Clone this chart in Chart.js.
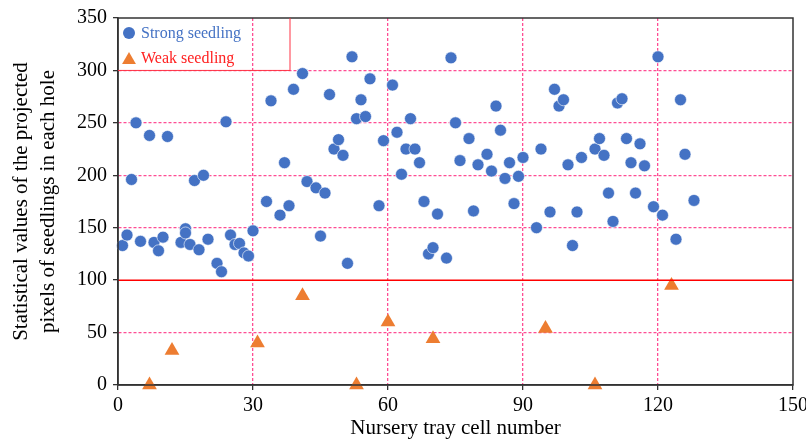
<!DOCTYPE html>
<html>
<head>
<meta charset="utf-8">
<script src="https://cdn.jsdelivr.net/npm/chart.js@4.4.1/dist/chart.umd.min.js"></script>
<style>
  html, body { margin: 0; padding: 0; background: #fff; }
  .chart-container { width: 806px; height: 441px; }
</style>
</head>
<body>
<div class="chart-container">
  <canvas id="seedChart" width="806" height="441"></canvas>
</div>
<script>
// datos
const seriesLabels = ['Strong seedling', 'Weak seedling'];

const strongX = [1,2,3,4,5,7,8,9,10,11,14,15,15,16,17,18,19,20,22,23,24,25,26,27,28,29,30,33,34,36,
  37,38,39,41,42,44,45,46,47,48,49,50,51,52,53,54,55,56,58,59,61,62,63,64,65,66,67,68,69,70,
  71,73,74,75,76,78,79,80,82,83,84,85,86,87,88,89,90,93,94,96,97,98,99,100,101,102,103,106,107,108,
  109,110,111,112,113,114,115,116,117,119,120,121,124,125,126,128];
const strongY = [133,143,196,250,137,238,136,128,141,237,136,149,145,134,195,129,200,139,116,108,
  251,143,134,135,126,123,147,175,271,162,212,171,282,297,194,188,142,183,277,225,
  234,219,116,313,254,272,256,292,171,233,286,241,201,225,254,225,212,175,125,131,
  163,121,312,250,214,235,166,210,220,204,266,243,197,212,173,199,217,150,225,165,
  282,266,272,210,133,165,217,225,235,219,183,156,269,273,235,212,183,230,209,170,
  313,162,139,272,220,176];

const weakX = [7,12,31,41,53,60,70,95,106,123];
const weakY = [0,33,40,85,0,60,44,54,0,95];

const xTicks = [0,30,60,90,120,150];
const yTicks = [0,50,100,150,200,250,300,350];
const threshold = 100;
const legendBottomValue = 300;

const blue = '#4472c4';
const orange = '#ed7d31';
const pink = '#ff4d94';
const axisColor = '#333333';
const serif = '"Liberation Serif", "Times New Roman", serif';

const toPoints = (xs, ys) => xs.map((x, i) => ({ x: x, y: ys[i] }));

// linea roja, marco y leyenda
const extrasPlugin = {
  id: 'extras',
  afterDatasetsDraw(chart) {
    const { ctx, chartArea, scales } = chart;
    const yLine = scales.y.getPixelForValue(threshold);
    ctx.save();
    ctx.strokeStyle = '#ff0000';
    ctx.lineWidth = 1.5;
    ctx.beginPath();
    ctx.moveTo(chartArea.left, yLine);
    ctx.lineTo(chartArea.right, yLine);
    ctx.stroke();
    ctx.restore();
  },
  afterDraw(chart) {
    const { ctx, chartArea, scales } = chart;
    ctx.save();
    // marco
    ctx.strokeStyle = axisColor;
    ctx.lineWidth = 1.5;
    ctx.strokeRect(chartArea.left, chartArea.top, chartArea.right - chartArea.left, chartArea.bottom - chartArea.top);

    // leyenda
    const boxRight = 290;
    const boxBottom = scales.y.getPixelForValue(legendBottomValue);
    ctx.strokeStyle = '#ff3344';
    ctx.lineWidth = 1;
    ctx.beginPath();
    ctx.moveTo(chartArea.left, boxBottom);
    ctx.lineTo(boxRight, boxBottom);
    ctx.lineTo(boxRight, chartArea.top);
    ctx.stroke();

    ctx.font = '16px ' + serif;
    ctx.textBaseline = 'middle';
    ctx.textAlign = 'left';

    ctx.fillStyle = blue;
    ctx.beginPath();
    ctx.arc(129, 33, 6, 0, Math.PI * 2);
    ctx.fill();
    ctx.fillText(seriesLabels[0], 141, 34);

    const r = 8;
    const tx = 129, ty = 60;
    ctx.fillStyle = orange;
    ctx.beginPath();
    ctx.moveTo(tx, ty - r);
    ctx.lineTo(tx + r * 0.866, ty + r / 2);
    ctx.lineTo(tx - r * 0.866, ty + r / 2);
    ctx.closePath();
    ctx.fill();
    ctx.fillStyle = '#ff2020';
    ctx.fillText(seriesLabels[1], 141, 59);
    ctx.restore();
  }
};

const gridColor = (ctx, skip) => skip.includes(ctx.tick.value) ? 'rgba(0,0,0,0)' : pink;

const chartConfig = {
  type: 'scatter',
  data: {
    datasets: [
      {
        label: seriesLabels[0],
        data: toPoints(strongX, strongY),
        backgroundColor: blue,
        borderColor: '#ffffff',
        borderWidth: 0.6,
        pointStyle: 'circle',
        pointRadius: 6,
      },
      {
        label: seriesLabels[1],
        data: toPoints(weakX, weakY),
        backgroundColor: orange,
        borderColor: orange,
        borderWidth: 0,
        pointStyle: 'triangle',
        pointRadius: 8.5,
      },
    ],
  },
  options: {
    responsive: false,
    animation: false,
    devicePixelRatio: 1,
    clip: false,
    layout: { padding: { top: 15, right: 13, left: 0, bottom: 0 } },
    scales: {
      x: {
        type: 'linear',
        min: 0,
        max: 150,
        afterBuildTicks: (scale) => { scale.ticks = xTicks.map(v => ({ value: v })); },
        afterFit: (scale) => {
          scale.height = 56;
          scale.paddingLeft = 0;
          scale.paddingRight = 0;
        },
        grid: {
          color: (ctx) => gridColor(ctx, [0, 150]),
          lineWidth: 1.3,
          tickColor: axisColor,
          tickWidth: 1.3,
          tickLength: 5,
          tickBorderDash: [],
        },
        border: { display: true, color: axisColor, width: 1.5, dash: [3, 2] },
        ticks: {
          color: '#000',
          font: { family: serif, size: 20 },
          padding: 4,
          maxRotation: 0,
        },
        title: {
          display: true,
          text: 'Nursery tray cell number',
          color: '#000',
          font: { family: serif, size: 21 },
          padding: { top: 0, bottom: 0 },
        },
      },
      y: {
        type: 'linear',
        min: 0,
        max: 350,
        afterBuildTicks: (scale) => { scale.ticks = yTicks.map(v => ({ value: v })); },
        afterFit: (scale) => { scale.width = 118; },
        grid: {
          color: (ctx) => gridColor(ctx, [0, threshold, 350]),
          lineWidth: 1.3,
          tickColor: axisColor,
          tickWidth: 1.3,
          tickLength: 5,
          tickBorderDash: [],
        },
        border: { display: true, color: axisColor, width: 1.5, dash: [3, 2] },
        ticks: {
          color: '#000',
          font: { family: serif, size: 20 },
          padding: 6,
        },
        title: {
          display: true,
          text: ['Statistical values of the projected', 'pixels of seedlings in each hole'],
          color: '#000',
          font: { family: serif, size: 21, lineHeight: 1.3 },
          padding: { top: 8, bottom: 0 },
        },
      },
    },
    plugins: {
      legend: { display: false },
      tooltip: { enabled: false },
    },
  },
  plugins: [extrasPlugin],
};

new Chart(document.getElementById('seedChart'), chartConfig);
</script>
</body>
</html>
